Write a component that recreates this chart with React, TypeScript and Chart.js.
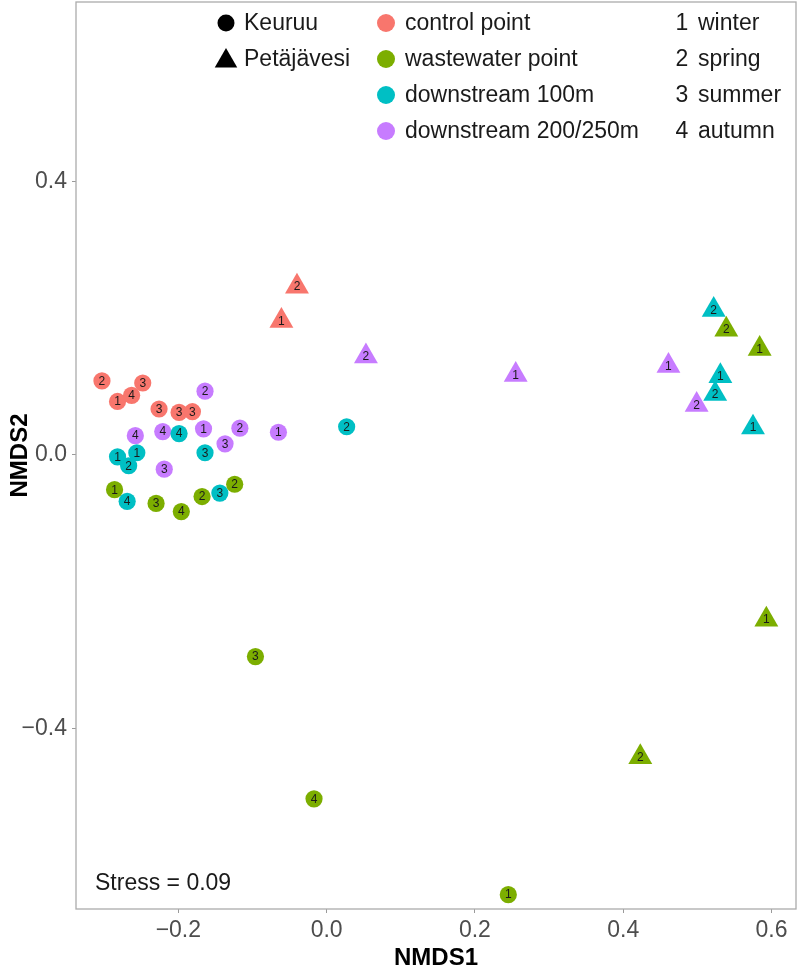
import React, { useEffect, useRef } from 'react';
import { Chart, registerables } from 'chart.js';

Chart.register(...registerables);

const X_TICKS = [-0.2, 0.0, 0.2, 0.4, 0.6];
const Y_TICKS = [-0.4, 0.0, 0.4];
const X_RANGE = [-0.338, 0.633];
const Y_RANGE = [-0.664, 0.662];

// Keuruu (circles)
const KEU_CONTROL_X = [-0.303, -0.282, -0.263, -0.248, -0.226, -0.199, -0.181];
const KEU_CONTROL_Y = [0.108, 0.078, 0.087, 0.105, 0.067, 0.062, 0.063];
const KEU_CONTROL_S = [2, 1, 4, 3, 3, 3, 3];

const KEU_WASTE_X = [-0.286, -0.230, -0.196, -0.168, -0.124, -0.096, -0.017, 0.245];
const KEU_WASTE_Y = [-0.051, -0.071, -0.083, -0.061, -0.043, -0.295, -0.503, -0.643];
const KEU_WASTE_S = [1, 3, 4, 2, 2, 3, 4, 1];

const KEU_D100_X = [-0.199, -0.282, -0.256, -0.267, -0.164, -0.269, -0.144, 0.027];
const KEU_D100_Y = [0.031, -0.003, 0.003, -0.016, 0.003, -0.068, -0.056, 0.041];
const KEU_D100_S = [4, 1, 1, 2, 3, 4, 3, 2];

const KEU_D200_X = [-0.164, -0.258, -0.221, -0.166, -0.117, -0.137, -0.219, -0.065];
const KEU_D200_Y = [0.093, 0.028, 0.034, 0.038, 0.039, 0.016, -0.021, 0.033];
const KEU_D200_S = [2, 4, 4, 1, 2, 3, 3, 1];

// Petäjävesi (triangles)
const PET_CONTROL_X = [-0.040, -0.061];
const PET_CONTROL_Y = [0.246, 0.196];
const PET_CONTROL_S = [2, 1];

const PET_WASTE_X = [0.539, 0.584, 0.593, 0.423];
const PET_WASTE_Y = [0.183, 0.155, -0.241, -0.442];
const PET_WASTE_S = [2, 1, 1, 2];

const PET_D100_X = [0.522, 0.531, 0.524, 0.575];
const PET_D100_Y = [0.212, 0.115, 0.089, 0.040];
const PET_D100_S = [2, 1, 2, 1];

const PET_D200_X = [0.053, 0.255, 0.461, 0.499];
const PET_D200_Y = [0.144, 0.117, 0.130, 0.073];
const PET_D200_S = [2, 1, 1, 2];

const SITE_LABELS = ['Keuruu', 'Petäjävesi'];
const GROUP_LABELS = ['control point', 'wastewater point', 'downstream 100m', 'downstream 200/250m'];
const GROUP_COLORS = ['#F8766D', '#7CAE00', '#00BFC4', '#C77CFF'];
const SEASON_NUMBERS = ['1', '2', '3', '4'];
const SEASON_LABELS = ['winter', 'spring', 'summer', 'autumn'];
const STRESS_TEXT = 'Stress = 0.09';

const FONT = '"Liberation Sans", Arial, Helvetica, sans-serif';

const fmt = (v: number) => {
  const s = Math.abs(v).toFixed(1);
  return v < -1e-9 ? '\u2212' + s : s;
};

const mk = (xs: number[], ys: number[], ss: number[]) =>
  xs.map((x, i) => ({ x, y: ys[i], s: ss[i] }));

const SERIES = [
  { site: 0, group: 0, pts: mk(KEU_CONTROL_X, KEU_CONTROL_Y, KEU_CONTROL_S) },
  { site: 0, group: 1, pts: mk(KEU_WASTE_X, KEU_WASTE_Y, KEU_WASTE_S) },
  { site: 0, group: 2, pts: mk(KEU_D100_X, KEU_D100_Y, KEU_D100_S) },
  { site: 0, group: 3, pts: mk(KEU_D200_X, KEU_D200_Y, KEU_D200_S) },
  { site: 1, group: 0, pts: mk(PET_CONTROL_X, PET_CONTROL_Y, PET_CONTROL_S) },
  { site: 1, group: 1, pts: mk(PET_WASTE_X, PET_WASTE_Y, PET_WASTE_S) },
  { site: 1, group: 2, pts: mk(PET_D100_X, PET_D100_Y, PET_D100_S) },
  { site: 1, group: 3, pts: mk(PET_D200_X, PET_D200_Y, PET_D200_S) },
];

const CIRCLE_R = 8.6;
const TRI_R = 13.8;

const drawTri = (ctx: CanvasRenderingContext2D, x: number, y: number, r: number) => {
  ctx.beginPath();
  let a = 0;
  ctx.moveTo(x + Math.sin(a) * r, y - Math.cos(a) * r);
  a += (2 * Math.PI) / 3;
  ctx.lineTo(x + Math.sin(a) * r, y - Math.cos(a) * r);
  a += (2 * Math.PI) / 3;
  ctx.lineTo(x + Math.sin(a) * r, y - Math.cos(a) * r);
  ctx.closePath();
  ctx.fill();
};

const extrasPlugin = {
  id: 'extras',
  afterDatasetsDraw(chart: any) {
    const ctx: CanvasRenderingContext2D = chart.ctx;
    ctx.save();
    ctx.fillStyle = '#1a1a1a';
    ctx.font = `12px ${FONT}`;
    ctx.textAlign = 'center';
    ctx.textBaseline = 'middle';
    chart.data.datasets.forEach((ds: any, di: number) => {
      const meta = chart.getDatasetMeta(di);
      meta.data.forEach((el: any, i: number) => {
        const s = ds.data[i].s;
        ctx.fillText(String(s), el.x, el.y + 0.5);
      });
    });
    ctx.restore();
  },
  afterDraw(chart: any) {
    const ctx: CanvasRenderingContext2D = chart.ctx;
    const a = chart.chartArea;
    ctx.save();
    // panel border
    ctx.strokeStyle = '#ababab';
    ctx.lineWidth = 1.3;
    ctx.strokeRect(a.left, a.top, a.right - a.left, a.bottom - a.top);

    // legend
    const rows = [23, 59, 95, 131];
    ctx.font = `23px ${FONT}`;
    ctx.textBaseline = 'middle';
    ctx.textAlign = 'left';
    // shape legend
    ctx.fillStyle = '#000';
    ctx.beginPath();
    ctx.arc(226, rows[0], 8.5, 0, Math.PI * 2);
    ctx.fill();
    drawTri(ctx, 226, rows[1] + 2, 13);
    ctx.fillStyle = '#1a1a1a';
    SITE_LABELS.forEach((t, i) => ctx.fillText(t, 244, rows[i] + 1));
    // colour legend
    GROUP_LABELS.forEach((t, i) => {
      ctx.fillStyle = GROUP_COLORS[i];
      ctx.beginPath();
      ctx.arc(386, rows[i], 9, 0, Math.PI * 2);
      ctx.fill();
      ctx.fillStyle = '#1a1a1a';
      ctx.fillText(t, 405, rows[i] + 1);
    });
    // season legend
    SEASON_LABELS.forEach((t, i) => {
      ctx.textAlign = 'center';
      ctx.fillText(SEASON_NUMBERS[i], 682, rows[i] + 1);
      ctx.textAlign = 'left';
      ctx.fillText(t, 698, rows[i] + 1);
    });
    // stress
    ctx.textAlign = 'left';
    ctx.fillText(STRESS_TEXT, 95, 884);
    ctx.restore();
  },
};

export default function App() {
  const ref = useRef<HTMLCanvasElement | null>(null);
  useEffect(() => {
    if (!ref.current) return;
    const datasets = SERIES.map((s) => ({
      label: `${SITE_LABELS[s.site]} ${GROUP_LABELS[s.group]}`,
      data: s.pts,
      backgroundColor: GROUP_COLORS[s.group],
      borderWidth: 0,
      pointStyle: s.site === 0 ? 'circle' : 'triangle',
      pointRadius: s.site === 0 ? CIRCLE_R : TRI_R,
      pointHoverRadius: s.site === 0 ? CIRCLE_R : TRI_R,
    }));
    const tickFont = { family: FONT, size: 23 };
    const chart = new Chart(ref.current, {
      type: 'scatter',
      data: { datasets } as any,
      options: {
        animation: false,
        responsive: true,
        maintainAspectRatio: false,
        layout: { autoPadding: false, padding: { top: 2, right: 4, left: 0, bottom: 0 } },
        plugins: { legend: { display: false }, tooltip: { enabled: false } },
        scales: {
          x: {
            type: 'linear',
            min: X_RANGE[0],
            max: X_RANGE[1],
            afterBuildTicks: (sc: any) => {
              sc.ticks = X_TICKS.map((v) => ({ value: v }));
            },
            afterFit: (sc: any) => {
              sc.height = 70;
              sc.paddingLeft = 0;
              sc.paddingRight = 0;
            },
            grid: { display: true, drawOnChartArea: false, drawTicks: true, tickLength: 4, color: '#9a9a9a' },
            border: { display: false },
            ticks: {
              font: tickFont,
              color: '#4d4d4d',
              padding: 4,
              autoSkip: false,
              maxRotation: 0,
              callback: (v: any) => fmt(Number(v)),
            },
            title: {
              display: true,
              text: 'NMDS1',
              color: '#000',
              font: { family: FONT, size: 24, weight: 'bold' },
              padding: { top: 0, bottom: 6.5 },
            },
          },
          y: {
            type: 'linear',
            min: Y_RANGE[0],
            max: Y_RANGE[1],
            afterBuildTicks: (sc: any) => {
              sc.ticks = Y_TICKS.map((v) => ({ value: v }));
            },
            afterFit: (sc: any) => {
              sc.width = 76;
              sc.paddingTop = 0;
              sc.paddingBottom = 0;
            },
            grid: { display: true, drawOnChartArea: false, drawTicks: true, tickLength: 4, color: '#9a9a9a' },
            border: { display: false },
            ticks: {
              font: tickFont,
              color: '#4d4d4d',
              padding: 5,
              autoSkip: false,
              callback: (v: any) => fmt(Number(v)),
            },
            title: {
              display: true,
              text: 'NMDS2',
              color: '#000',
              font: { family: FONT, size: 24, weight: 'bold' },
              padding: { top: 5.5, bottom: 0 },
            },
          },
        },
      } as any,
      plugins: [extrasPlugin],
    });
    return () => chart.destroy();
  }, []);

  return (
    <div style={{ position: 'absolute', left: 0, top: 0, width: 800, height: 979, background: '#fff' }}>
      <canvas ref={ref} />
    </div>
  );
}
